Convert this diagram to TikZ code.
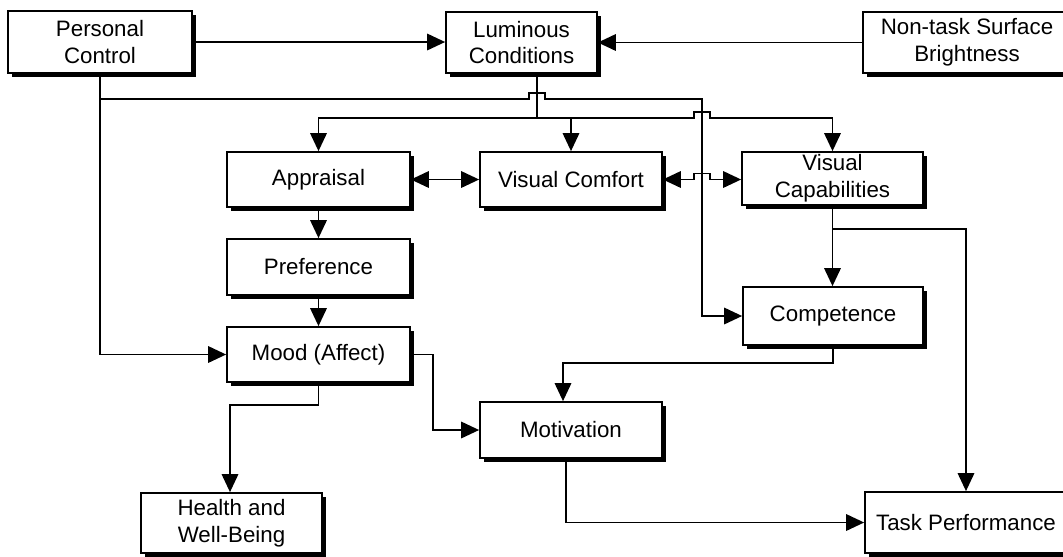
\documentclass[tikz,border=0pt]{standalone}
\usepackage{fontspec}
\setmainfont{Liberation Sans}
\usetikzlibrary{arrows.meta,shadows,positioning}
\newcommand{\linehop}{-- ++(0,-6) -- ++(16,0) -- ++(0,6)}
\tikzset{
	box/.style={draw, line width=1pt, fill=white, align=center, inner sep=0pt,
		font=\fontsize{12.7}{15.3}\selectfont,
		drop shadow={shadow xshift=0.085cm, shadow yshift=-0.085cm, opacity=1, fill=black}},
	wire/.style={line width=1pt},
	link/.style={wire, -{Triangle[length=0.36cm,width=0.33cm]}},
	dlink/.style={wire, {Triangle[length=0.36cm,width=0.33cm]}-{Triangle[length=0.36cm,width=0.33cm]}}
}
\begin{document}
\begin{tikzpicture}[x=0.02cm, y=-0.02cm]
	\useasboundingbox (0,0) rectangle (1063,556);

	\node[box, minimum width=3.68cm, minimum height=1.24cm] (pc) at (100,42) {Personal\\Control};
	\node[box, minimum width=3.02cm, minimum height=1.22cm] (lum) at (521.5,42.5) {Luminous\\Conditions};
	\node[box, minimum width=4.16cm, minimum height=1.22cm] (nts) at (967,42.5) {Non-task Surface\\Brightness};

	\node[box, minimum width=3.66cm, minimum height=1.1cm] (appr) at (318.5,179.5) {Appraisal};
	\node[box, minimum width=3.64cm, minimum height=1.1cm] (vcom) at (571,179.5) {Visual Comfort};
	\node[box, minimum width=3.62cm, minimum height=1.06cm] (vcap) at (832.5,178.5) {Visual\\Capabilities};

	\node[box, minimum width=3.66cm, minimum height=1.12cm] (pref) at (318.5,267) {Preference};
	\node[box, minimum width=3.66cm, minimum height=1.1cm] (mood) at (318.5,354.5) {Mood (Affect)};
	\node[box, minimum width=3.6cm, minimum height=1.16cm] (comp) at (833,316) {Competence};
	\node[box, minimum width=3.64cm, minimum height=1.12cm] (motv) at (571,430) {Motivation};

	\node[box, minimum width=3.62cm, minimum height=1.2cm] (hlth) at (231.5,523) {Health and\\Well-Being};
	\node[box, minimum width=4.04cm, minimum height=1.22cm] (task) at (966,522.5) {Task Performance};

	\coordinate (lb) at ([xshift=0.31cm]lum.south);
	\coordinate (bus) at (lb |- 0,118);
	\coordinate (pcb) at (pc.south |- 0,99);

	\draw[link] (pc.east) -- (pc.east -| lum.west);
	\draw[link] (nts.west) -- (nts.west -| lum.east);

	\draw[link] (pc.south) |- (mood.west);
	\draw[link] (pcb) -- (529,99) \linehop -- (702,99) |- (comp.west);

	\draw[wire] (lb) -- (bus);
	\draw[link] (bus) -| (appr.north);
	\draw[link] (bus -| vcom.north) -- (vcom.north);
	\draw[link] (bus) -- (694,118) \linehop -| (vcap.north);

	\draw[dlink] (appr.east) -- (vcom.west);
	\draw[dlink] (vcom.east) -- (694,179.5) \linehop -- (vcap.west |- vcom.east);

	\draw[link] (appr.south) -- (pref.north);
	\draw[link] (pref.south) -- (mood.north);

	\draw[link] (vcap.south) -- (vcap.south |- comp.north);
	\draw[link] (vcap.south |- 0,229) -| (task.north);
	\draw[link] (comp.south) -- (comp.south |- 0,363) -| ([xshift=-0.16cm]motv.north);

	\draw[link] (mood.east) -- (433,354.5) |- (motv.west);
	\draw[link] (mood.south) -- (mood.south |- 0,405) -| ([xshift=-0.03cm]hlth.north);
	\draw[link] ([xshift=-0.1cm]motv.south) |- (task.west);

\end{tikzpicture}
\end{document}
